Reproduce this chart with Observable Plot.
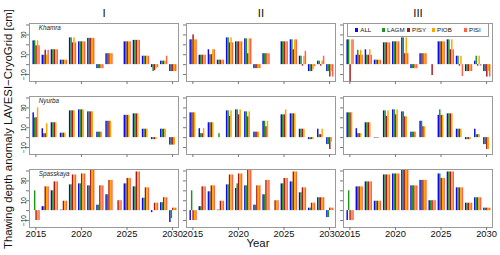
<!DOCTYPE html>
<html><head><meta charset="utf-8">
<script src="https://cdn.jsdelivr.net/npm/d3@7"></script>
<script src="https://cdn.jsdelivr.net/npm/@observablehq/plot@0.6"></script>
<style>
html,body{margin:0;padding:0;background:#fff;}
#chart{position:relative;width:500px;height:255px;font-family:"Liberation Sans",Arial,sans-serif;}
#legend{position:absolute;left:347px;top:22.7px;width:140px;height:12px;border:1px solid #999;background:#fff;box-sizing:content-box;}
.sw{position:absolute;width:3.4px;height:3.4px;top:4.6px;}
.lt{position:absolute;font-size:6.2px;line-height:12px;top:0;color:#111;}
</style></head><body><div id="chart"></div>
<script>
const years = [2015,2016,2017,2018,2019,2020,2021,2022,2023,2024,2025,2026,2027,2028,2029,2030];
const seriesNames = ["ALL","LAGM","PISY","PIOB","PISI"];
const seriesColors = ["#0a0aee","#1e961e","#a81818","#ffa500","#ff6347"];
const sites = ["Khamra","Nyurba","Spasskaya"];
const scenarios = ["I","II","III"];
const xTicks = [2015,2020,2025,2030];
const yTickMarks = [-10,0,10,20,30,40];
const yTickLabels = [-10,10,30];

// rows = years; columns = ALL, LAGM, PISY, PIOB, PISI
const khamra_I = [
 [24,24,19,24,19],[9.5,9.5,14.5,9.5,14.5],[15,15,15,15,15],[4.5,4.5,4.5,4.5,4.5],
 [27,27,22,27,22],[23,23,23,23,23],[26.5,26.5,26.5,26.5,26.5],[-4,-4,-4,-4,-4],
 [11,11,11,11,11],[0,0,0,0,0],[23,23,23,23,23],[24.5,24.5,24.5,24.5,24.5],
 [8.5,8.5,8.5,8.5,8.5],[-3,-7,-6,-4,-3],[3.5,3.5,3.5,3.5,8.5],[-7,-7,-7,-7,-7]];
const khamra_II = [
 [25,25,30,25,25],[9.5,9.5,9.5,9.5,9.5],[15,10,10,15,15],[4.5,4.5,4.5,4.5,4.5],
 [27,27,22,27,22],[23,23,23,23,23],[26,26,11,26,26],[-4,-4,-4,-4,-4],
 [11,11,11,11,11],[0,0,0,0,0],[23,23,23,23,23],[25,25,15,25,25],
 [8.5,8.5,-1.5,8.5,13.5],[-7,-7,-7,-5,-2],[3.5,3.5,-1.5,3.5,8.5],[-7,-7,-12.5,-7,-12.5]];
const khamra_III = [
 [25,25,-17,25,25],[9.5,14.5,9.5,14.5,9.5],[15,9.5,9.5,15,9.5],[4.5,4.5,4.5,4.5,4.5],
 [22,22,22,22,22],[23,23,23,23,23],[27,27,11,27,11],[-4,-4,-4,-4,-4],
 [11,11,11,11,11],[0,0,-11,0,0],[23,23,23,23,23],[25,25,15,25,15],
 [8.5,8.5,-1.5,8.5,-12],[-7,-7,-7,-7,-7],[3.5,8.5,-1.5,8.5,-1.5],[-7,-7,-12.5,-7,-12.5]];
const nyurba_I = [
 [25,20,20,30,0],[9,4,4,14,0],[15,15,15,15,0],[4.5,4.5,4.5,4.5,0],
 [27,27,27,27,0],[28,28,28,28,0],[26,26,26,26,0],[5.5,5.5,5.5,5.5,0],
 [16.5,16.5,16.5,16.5,0],[0,0,0,0,0],[22.5,22.5,22.5,22.5,0],[24,24,24,24,0],
 [8.5,8.5,8.5,8.5,0],[-2,-2,-2,-2,0],[8.5,8.5,8.5,8.5,0],[-7.5,-7.5,-7.5,-7.5,0]];
const nyurba_II = [
 [25,25,25,25,0],[9,4,4,9,0],[15,15,15,15,0],[0,4,0,0,0],
 [27,27,21.5,27,0],[28,28,23,28,0],[26,26,21,26,0],[5.5,5.5,5.5,5.5,0],
 [16.5,16.5,11,16.5,0],[0,0,0,0,0],[23,23,23,28,0],[24,24,24,24,0],
 [8.5,8.5,8.5,8.5,0],[-2,-2,-2,-2,0],[8.5,3,3,8.5,0],[-7,-7,-12,-4.5,0]];
const nyurba_III = [
 [25,25,25,25,0],[9,4,4,4,0],[15,15,15,15,0],[-0.5,-0.5,-0.5,-0.5,0],
 [27,27,21.5,27,0],[28,28,23,28,0],[26,26,21,21,0],[5.5,5.5,5.5,5.5,0],
 [16.5,16.5,11,11,0],[0,0,0,0,0],[22.5,28,22.5,22.5,0],[24,24,24,24,0],
 [8.5,8.5,8.5,8.5,0],[-2,-2,-2,-2,0],[8.5,3,3,3,0],[-7,-7,-12,-12,0]];
const spasskaya_I = [
 [0,20,-10,-10,-10],[4,4,24,24,24],[20,20,29,29,29],[0.5,0.5,9.5,9.5,9.5],
 [26,26,36,36,36],[27,27,37,37,37],[25,25,40.5,40.5,40.5],[5.5,5.5,25,25,25],
 [16,16,30.5,30.5,30.5],[0,0,10,10,10],[27,27,32.5,32.5,32.5],[24,24,39,39,39],
 [12.5,12.5,23,23,23],[-2,0,7.5,7.5,7.5],[8,8,13,13,13],[-12,-8,2.5,2.5,2.5]];
const spasskaya_II = [
 [-10,20,-10,-10,-10],[4,4,24,24,24],[19,19,25,25,25],[0.5,0.5,9.5,9.5,9.5],
 [26,26,36,36,36],[22.5,27,37,37,37],[25,25,40.5,40.5,40.5],[5.5,5.5,25,25,25],
 [16,16,30.5,30.5,30.5],[0,0,10,10,10],[27,27,32.5,32.5,32.5],[29,29,39,39,39],
 [18,18,23,23,23],[2.5,2.5,7.5,7.5,7.5],[13,13,13,13,13],[-7,-7,2.5,2.5,2.5]];
const spasskaya_III = [
 [-10,20,-10,-10,-10],[24,24,24,24,24],[29,29,29,29,29],[9.5,9.5,9.5,9.5,9.5],
 [36,36,36,36,36],[37,37,37,37,37],[40.5,40.5,40.5,40.5,40.5],[25,25,25,25,25],
 [30.5,30.5,30.5,30.5,30.5],[10,10,10,10,10],[37,37,32.5,32.5,32.5],[39,39,39,39,39],
 [23,23,23,23,23],[7.5,7.5,7.5,7.5,7.5],[13,13,13,13,13],[2.5,2.5,2.5,2.5,2.5]];

const panels = {
  Khamra: {I: khamra_I, II: khamra_II, III: khamra_III},
  Nyurba: {I: nyurba_I, II: nyurba_II, III: nyurba_III},
  Spasskaya: {I: spasskaya_I, II: spasskaya_II, III: spasskaya_III}
};
const bars = [];
for (const site of sites) for (const scen of scenarios)
  panels[site][scen].forEach((row, yi) => row.forEach((v, si) =>
    bars.push({site, scen, year: years[yi], series: seriesNames[si], si, value: v})));

const barW = 0.16, groupShift = 0.08;
const minus = v => (v < 0 ? "\u2212" + Math.abs(v) : String(v));
const siteLabels = sites.map(site => ({site, scen: "I"}));
const colTitles = scenarios.map(scen => ({scen, site: "Khamra"}));
const yLab = sites.flatMap(site => yTickLabels.map(v => ({site, scen: "I", v})));
const xLab = scenarios.flatMap(scen => xTicks.map(v => ({scen, site: "Spasskaya", v})));

const chart = Plot.plot({
  width: 500, height: 255,
  marginLeft: 29, marginRight: 8.3, marginTop: 22.5, marginBottom: 27.5,
  style: {fontFamily: "Liberation Sans, Arial, sans-serif", background: "white", overflow: "visible", color: "#111"},
  x: {domain: [2014.3, 2030.65], axis: null},
  y: {domain: [-17, 41.5], axis: null},
  fx: {domain: scenarios, paddingInner: 0.053, paddingOuter: 0, axis: null},
  fy: {domain: sites, paddingInner: 0.2014, paddingOuter: 0, axis: null},
  color: {domain: seriesNames, range: seriesColors},
  marks: [
    Plot.rect(bars, {fx: "scen", fy: "site",
      x1: d => d.year + groupShift + (d.si - 2.5) * barW,
      x2: d => d.year + groupShift + (d.si - 1.5) * barW,
      y1: () => 0, y2: "value", fill: "series"}),
    Plot.frame({stroke: "#9a9a9a"}),
    Plot.axisX({ticks: xTicks, tickSize: 3, tickFormat: () => "", facetAnchor: null, stroke: "#777", label: null}),
    Plot.axisY({ticks: yTickMarks, tickSize: 3, tickFormat: () => "", facetAnchor: null, stroke: "#777", label: null}),
    Plot.text(siteLabels, {fx: "scen", fy: "site", text: "site", frameAnchor: "top-left", dx: 9.3, dy: 2,
      lineAnchor: "top", fontStyle: "italic", fontSize: 6.3, fill: "#222"}),
    Plot.text(colTitles, {fx: "scen", fy: "site", text: "scen", frameAnchor: "top", dy: -10.5,
      lineAnchor: "middle", fontSize: 11.5, fill: "#111"}),
    Plot.text(yLab, {fx: "scen", fy: "site", y: "v", text: d => minus(d.v), frameAnchor: "left", dx: -5.5,
      rotate: -90, textAnchor: "middle", lineAnchor: "middle", fontSize: 6.5, fill: "#111"}),
    Plot.text(xLab, {fx: "scen", fy: "site", x: "v", text: d => String(d.v), frameAnchor: "bottom", dy: 3,
      lineAnchor: "top", fontSize: 9.4, fill: "#111"})
  ]
});
const container = document.getElementById("chart");
container.appendChild(chart);

const svg = d3.select(chart);
svg.append("text").attr("transform", "translate(12,129) rotate(-90)")
  .attr("text-anchor", "middle").attr("font-size", 11.4).attr("fill", "#111")
  .text("Thawing depth anomaly LAVESI\u2212CryoGrid [cm]");
svg.append("text").attr("x", 258).attr("y", 247)
  .attr("text-anchor", "middle").attr("font-size", 11.4).attr("fill", "#111")
  .text("Year");

// legend
const legend = document.createElement("div");
legend.id = "legend";
const swX = [7, 33.7, 58.7, 83.7, 115.7];
seriesNames.forEach((name, i) => {
  const sw = document.createElement("div");
  sw.className = "sw"; sw.style.left = swX[i] + "px"; sw.style.background = seriesColors[i];
  legend.appendChild(sw);
  const t = document.createElement("div");
  t.className = "lt"; t.style.left = (swX[i] + 5.3) + "px"; t.textContent = name;
  legend.appendChild(t);
});
container.appendChild(legend);
</script></body></html>
